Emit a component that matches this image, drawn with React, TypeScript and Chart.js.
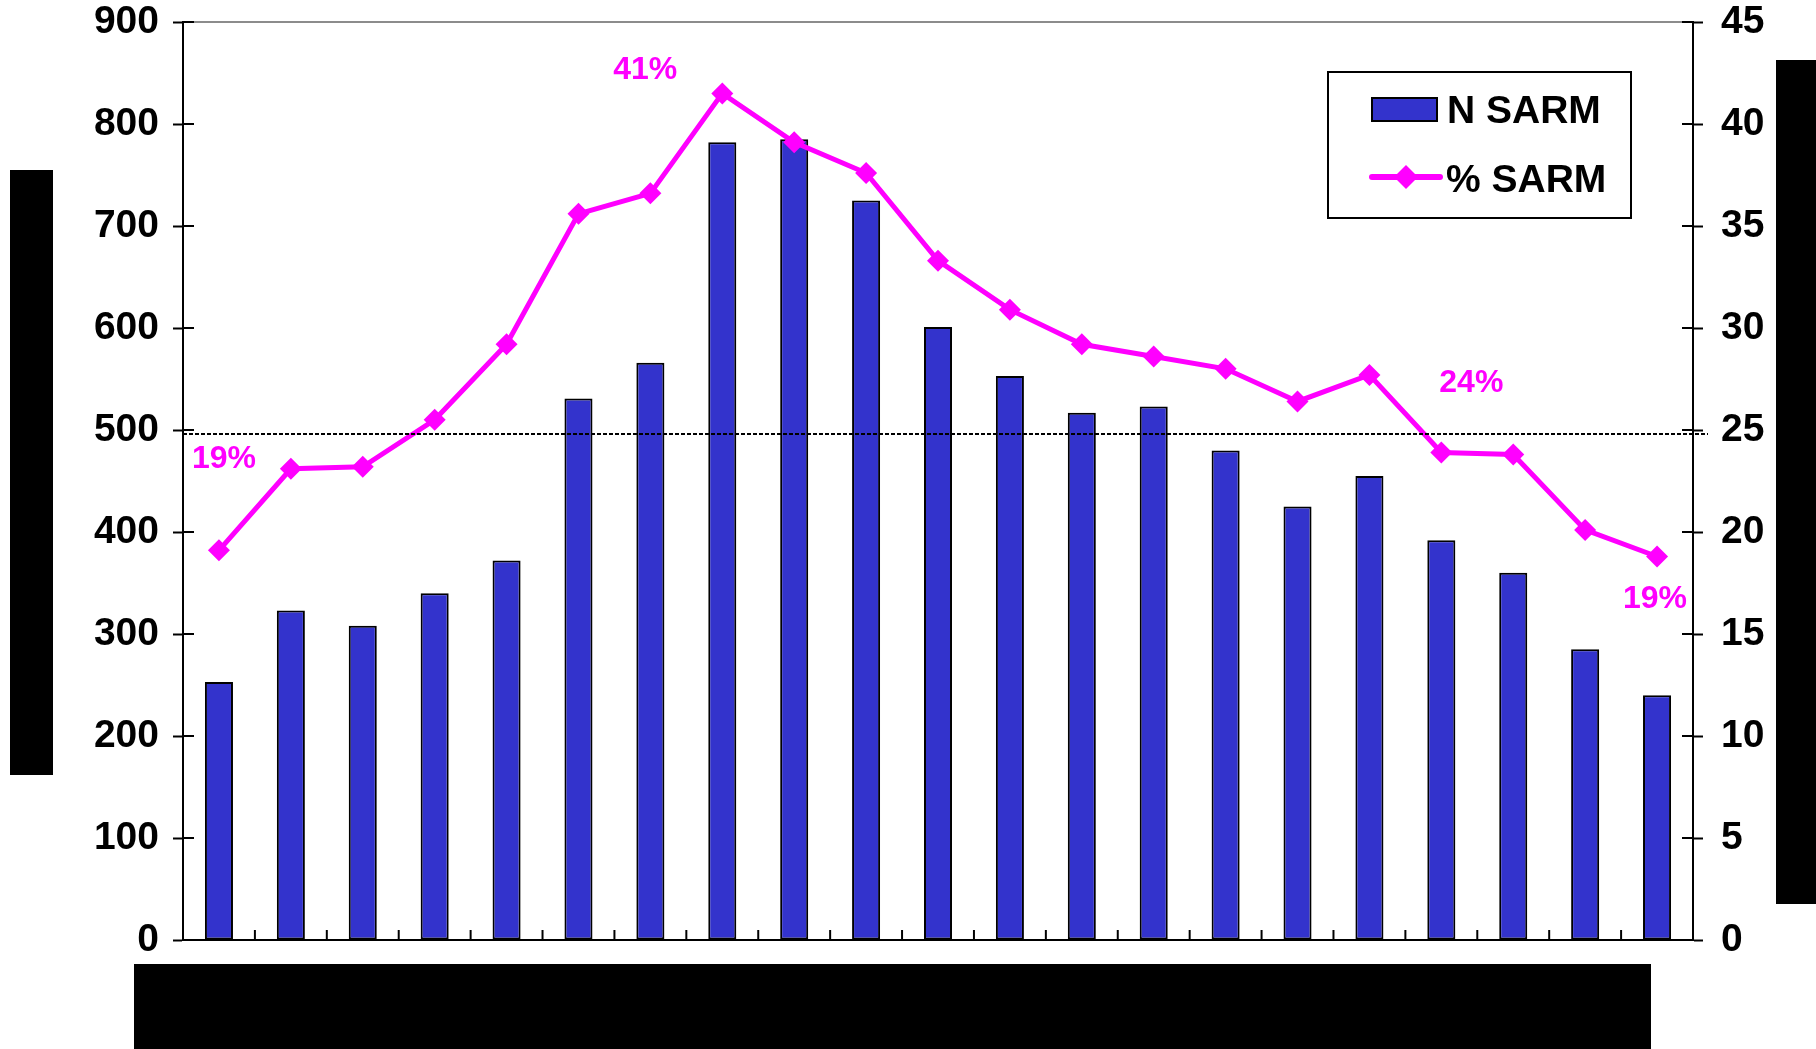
import React, { useEffect, useRef } from "react";
import { Chart, registerables } from "chart.js";

Chart.register(...registerables);

// ---- data ----
const CATEGORIES = ["1", "2", "3", "4", "5", "6", "7", "8", "9", "10", "11", "12", "13", "14", "15", "16", "17", "18", "19", "20", "21"];
const N_SARM = [253, 323, 308, 340, 372, 531, 566, 782, 785, 725, 601, 553, 517, 523, 480, 425, 455, 392, 360, 285, 240];
const PCT_SARM = [19.1, 23.1, 23.2, 25.5, 29.2, 35.6, 36.6, 41.5, 39.1, 37.6, 33.3, 30.9, 29.2, 28.6, 28.0, 26.4, 27.7, 23.9, 23.8, 20.1, 18.8];
const LEFT_TICKS = [0, 100, 200, 300, 400, 500, 600, 700, 800, 900];
const RIGHT_TICKS = [0, 5, 10, 15, 20, 25, 30, 35, 40, 45];
const REFERENCE_PCT = 24.8;
const POINT_LABELS = [
  { index: 0, text: "19%", dx: 5, dy: -82 },
  { index: 7, text: "41%", dx: -77, dy: -14 },
  { index: 17, text: "24%", dx: 30, dy: -60 },
  { index: 20, text: "19%", dx: -2, dy: 52 },
];

const BLUE = "#3333CC";
const MAGENTA = "#FF00FF";
const FONT = "'Liberation Sans', Arial, sans-serif";

const decorPlugin = {
  id: "decor",
  afterDatasetsDraw(chart: any) {
    const ctx = chart.ctx as CanvasRenderingContext2D;
    const { left, right, top, bottom } = chart.chartArea;
    const yL = chart.scales.y;
    const yR = chart.scales.y1;
    const line = (x1: number, y1: number, x2: number, y2: number) => {
      ctx.beginPath();
      ctx.moveTo(x1, y1);
      ctx.lineTo(x2, y2);
      ctx.stroke();
    };
    ctx.save();
    // top gray line
    ctx.strokeStyle = "#8c8c8c";
    ctx.lineWidth = 2;
    line(left, top, right, top);
    // inner tick parts
    ctx.strokeStyle = "#000";
    ctx.lineWidth = 2;
    yL.ticks.forEach((_t: any, i: number) => {
      const y = yL.getPixelForTick(i);
      line(left, y, left + 11, y);
    });
    yR.ticks.forEach((_t: any, i: number) => {
      const y = yR.getPixelForTick(i);
      line(right - 11, y, right, y);
    });
    // x category boundary ticks
    const n = chart.data.labels.length;
    for (let i = 1; i < n; i++) {
      const x = left + ((right - left) * i) / n;
      line(x, bottom, x, bottom - 10);
    }
    // reference dotted line
    const yRef = yR.getPixelForValue(REFERENCE_PCT);
    ctx.setLineDash([4, 2]);
    ctx.lineWidth = 2;
    line(left, yRef, right + 15, yRef);
    ctx.setLineDash([]);

    // point labels
    const meta = chart.getDatasetMeta(1);
    ctx.fillStyle = MAGENTA;
    ctx.font = `bold 32px ${FONT}`;
    ctx.textAlign = "center";
    ctx.textBaseline = "alphabetic";
    POINT_LABELS.forEach((l) => {
      const pt = meta.data[l.index];
      ctx.fillText(l.text, pt.x + l.dx, pt.y + l.dy);
    });

    // legend
    ctx.fillStyle = "#fff";
    ctx.fillRect(1328, 72, 303, 146);
    ctx.strokeStyle = "#000";
    ctx.lineWidth = 2;
    ctx.strokeRect(1328, 72, 303, 146);
    ctx.fillStyle = BLUE;
    ctx.fillRect(1372, 98, 65, 23);
    ctx.strokeRect(1372, 98, 65, 23);
    ctx.strokeStyle = MAGENTA;
    ctx.lineWidth = 6;
    ctx.lineCap = "round";
    line(1372, 177, 1440, 177);
    ctx.fillStyle = MAGENTA;
    ctx.beginPath();
    ctx.moveTo(1406, 165);
    ctx.lineTo(1418, 177);
    ctx.lineTo(1406, 189);
    ctx.lineTo(1394, 177);
    ctx.closePath();
    ctx.fill();
    ctx.fillStyle = "#000";
    ctx.font = `bold 39px ${FONT}`;
    ctx.textAlign = "left";
    ctx.textBaseline = "alphabetic";
    ctx.fillText(chart.data.datasets[0].label, 1447, 123);
    ctx.fillText(chart.data.datasets[1].label, 1446, 192);
    ctx.restore();
  },
};

export default function App() {
  const ref = useRef<HTMLCanvasElement | null>(null);

  useEffect(() => {
    if (!ref.current) return;
    const tickFont = { family: FONT, size: 39, weight: "bold" as const, lineHeight: 1 };
    const chart = new Chart(ref.current, {
      type: "bar",
      data: {
        labels: CATEGORIES,
        datasets: [
          {
            type: "bar",
            label: "N SARM",
            data: N_SARM,
            backgroundColor: BLUE,
            borderColor: "#000",
            borderWidth: 2,
            borderSkipped: false,
            barPercentage: 0.39,
            categoryPercentage: 1,
            yAxisID: "y",
            order: 1,
          },
          {
            type: "line",
            label: "% SARM",
            data: PCT_SARM,
            borderColor: MAGENTA,
            backgroundColor: MAGENTA,
            borderWidth: 5,
            pointStyle: "rectRot",
            pointRadius: 11,
            pointBorderWidth: 0,
            tension: 0,
            yAxisID: "y1",
            order: 0,
          } as any,
        ],
      },
      options: {
        responsive: false,
        animation: false,
        devicePixelRatio: 1,
        layout: { padding: { top: 22, left: 0, right: 0, bottom: 0 } },
        plugins: { legend: { display: false }, tooltip: { enabled: false } },
        scales: {
          x: {
            grid: { display: false },
            border: { display: true, color: "#000", width: 2 },
            ticks: { display: false },
            afterFit: (s: any) => {
              s.height = 109;
              s.paddingLeft = 0;
              s.paddingRight = 0;
            },
          },
          y: {
            position: "left",
            min: 0,
            max: 900,
            afterBuildTicks: (s: any) => {
              s.ticks = LEFT_TICKS.map((v) => ({ value: v }));
            },
            grid: { display: true, drawOnChartArea: false, drawTicks: true, tickLength: 10, tickColor: "#000", tickWidth: 2 },
            border: { display: true, color: "#000", width: 2 },
            ticks: { color: "#000", font: tickFont, padding: 14 },
            afterFit: (s: any) => {
              s.width = 183;
              s.paddingTop = 0;
              s.paddingBottom = 0;
            },
          },
          y1: {
            position: "right",
            min: 0,
            max: 45,
            afterBuildTicks: (s: any) => {
              s.ticks = RIGHT_TICKS.map((v) => ({ value: v }));
            },
            grid: { display: true, drawOnChartArea: false, drawTicks: true, tickLength: 10, tickColor: "#000", tickWidth: 2 },
            border: { display: true, color: "#000", width: 2 },
            ticks: { color: "#000", font: tickFont, padding: 18 },
            afterFit: (s: any) => {
              s.width = 123;
              s.paddingTop = 0;
              s.paddingBottom = 0;
            },
          },
        },
      },
      plugins: [decorPlugin],
    });
    return () => chart.destroy();
  }, []);

  const box = (l: number, t: number, w: number, h: number): React.CSSProperties => ({
    position: "absolute",
    left: l,
    top: t,
    width: w,
    height: h,
    background: "#000",
  });

  return (
    <div style={{ position: "absolute", left: 0, top: 0, width: 1816, height: 1049, background: "#fff", overflow: "hidden" }}>
      <canvas ref={ref} width={1816} height={1049} style={{ display: "block", position: "absolute", left: 0, top: 0 }} />
      <div style={box(10, 170, 43, 605)} />
      <div style={box(1776, 60, 40, 844)} />
      <div style={box(134, 964, 1517, 85)} />
    </div>
  );
}
